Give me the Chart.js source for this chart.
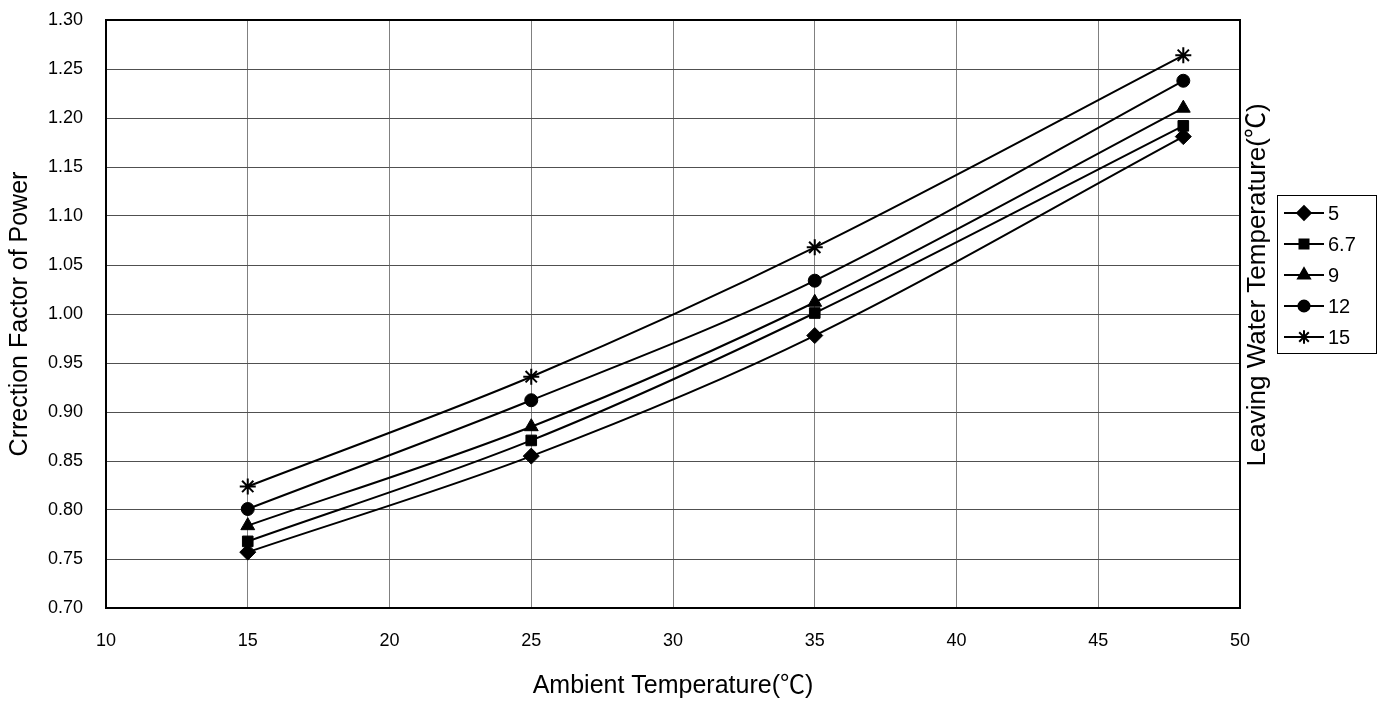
<!DOCTYPE html>
<html>
<head>
<meta charset="utf-8">
<script src="https://cdn.jsdelivr.net/npm/chart.js@4"></script>
<style>
  html, body { margin: 0; padding: 0; background: #fff; }
  #wrap { width: 1381px; height: 704px; }
</style>
</head>
<body>
<div id="wrap"><canvas id="chart" width="1381" height="704"></canvas></div>
<script>
// ambient temperature (x) and correction factors per leaving water temperature
let ambient = [15, 25, 35, 48];
let seriesNames = ['5', '6.7', '9', '12', '15'];
let lwt5 = [0.757, 0.855, 0.978, 1.181];
let lwt67 = [0.768, 0.871, 1.001, 1.192];
let lwt9 = [0.784, 0.885, 1.012, 1.210];
let lwt12 = [0.801, 0.912, 1.034, 1.238];
let lwt15 = [0.824, 0.936, 1.068, 1.264];
let xTicks = [10, 15, 20, 25, 30, 35, 40, 45, 50];
let yTicks = [0.70, 0.75, 0.80, 0.85, 0.90, 0.95, 1.00, 1.05, 1.10, 1.15, 1.20, 1.25, 1.30];

let markers = ['rectRot', 'rect', 'triangle', 'circle', 'star'];
let radii = [8, 7.5, 8, 6.5, 8];
let values = [lwt5, lwt67, lwt9, lwt12, lwt15];

const FONT = '"Liberation Sans", Arial, "Noto Sans CJK SC", sans-serif';

let datasets = seriesNames.map((name, i) => ({
    label: name,
    data: ambient.map((x, j) => ({x: x, y: values[i][j]})),
    borderColor: '#000',
    backgroundColor: '#000',
    borderWidth: 2,
    pointStyle: markers[i],
    pointRadius: radii[i],
    pointBorderWidth: i == 4 ? 2 : 1,
    tension: 0.33
}));

// frame, titles and the boxed legend on the right
let extras = {
    id: 'extras',
    beforeDatasetsDraw(chart) {
        let ctx = chart.ctx, a = chart.chartArea;
        ctx.save();
        ctx.strokeStyle = '#000';
        ctx.lineWidth = 2;
        ctx.strokeRect(a.left, a.top, a.right - a.left, a.bottom - a.top);
        ctx.restore();
    },
    afterDraw(chart) {
        let ctx = chart.ctx, a = chart.chartArea;
        ctx.save();
        ctx.fillStyle = '#000';
        ctx.font = '25px ' + FONT;
        ctx.textAlign = 'center';
        ctx.textBaseline = 'middle';
        // x title
        ctx.fillText('Ambient Temperature(℃)', (a.left + a.right) / 2, 686);
        // y title
        ctx.save();
        ctx.translate(20, (a.top + a.bottom) / 2);
        ctx.rotate(-Math.PI / 2);
        ctx.fillText('Crrection Factor of Power', 0, 0);
        ctx.restore();
        // right title
        ctx.save();
        ctx.translate(1258, 285);
        ctx.rotate(-Math.PI / 2);
        ctx.font = '26px ' + FONT;
        ctx.fillText('Leaving Water Temperature(℃)', 0, 0);
        ctx.restore();

        // legend
        ctx.strokeStyle = '#000';
        ctx.lineWidth = 1;
        ctx.strokeRect(1277.5, 195.5, 99, 158);
        ctx.font = '20px ' + FONT;
        ctx.textAlign = 'left';
        chart.data.datasets.forEach((ds, i) => {
            let y = 213 + i * 31;
            ctx.lineWidth = 2;
            ctx.beginPath();
            ctx.moveTo(1284, y);
            ctx.lineTo(1324, y);
            ctx.stroke();
            ctx.fillStyle = '#000';
            Chart.helpers.drawPoint(ctx, {
                pointStyle: ds.pointStyle,
                radius: ds.pointRadius * 0.85,
                rotation: 0,
                borderWidth: ds.pointBorderWidth
            }, 1304, y);
            ctx.fillStyle = '#000';
            ctx.fillText(ds.label, 1328, y + 1);
        });
        ctx.restore();
    }
};

let chart = new Chart(document.getElementById('chart').getContext('2d'), {
    type: 'line',
    data: { datasets: datasets },
    options: {
        responsive: false,
        animation: false,
        layout: { padding: { top: 20, right: 141, left: 0, bottom: 0 } },
        plugins: {
            legend: { display: false },
            tooltip: { enabled: false }
        },
        scales: {
            x: {
                type: 'linear',
                min: 10,
                max: 50,
                afterBuildTicks: s => { s.ticks = xTicks.map(v => ({value: v})); },
                afterFit: s => { s.height = 96; s.paddingLeft = 0; s.paddingRight = 0; },
                grid: { color: '#808080', lineWidth: 1, drawTicks: false },
                border: { display: false },
                ticks: { color: '#000', font: { size: 18, family: FONT }, padding: 22, maxRotation: 0 }
            },
            y: {
                type: 'linear',
                min: 0.70,
                max: 1.30,
                afterBuildTicks: s => { s.ticks = yTicks.map(v => ({value: v})); },
                afterFit: s => { s.width = 106; s.paddingTop = 0; s.paddingBottom = 0; },
                grid: { color: '#505050', lineWidth: 1, drawTicks: false },
                border: { display: false },
                ticks: {
                    color: '#000',
                    font: { size: 18, family: FONT },
                    padding: 23,
                    callback: v => Number(v).toFixed(2)
                }
            }
        }
    },
    plugins: [extras]
});
</script>
</body>
</html>
